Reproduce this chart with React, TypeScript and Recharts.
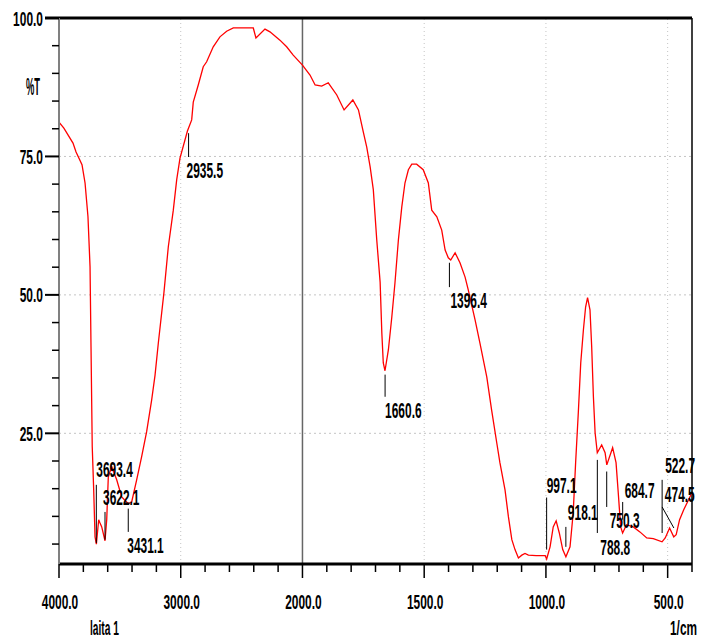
import React from 'react';
import { LineChart, Line, XAxis, YAxis, ReferenceLine, ReferenceDot } from 'recharts';

// spectrum: wavenumber (1/cm) and %T
const waves = [
  4000, 3960, 3885, 3860, 3811, 3786, 3762, 3745, 3737, 3727, 3715, 3704, 3693,
  3674, 3663, 3649, 3622, 3608, 3595, 3567, 3526, 3485, 3431, 3403, 3362, 3321,
  3280, 3239, 3211, 3184, 3138, 3102, 3061, 3033, 3006, 2945, 2910, 2897, 2856,
  2815, 2787, 2733, 2678, 2623, 2568, 2404, 2382, 2308, 2267, 2185, 2130, 2076,
  2000, 1969, 1948, 1921, 1894, 1859, 1829, 1793, 1770, 1750, 1736, 1722, 1709,
  1695, 1681, 1674, 1668, 1661, 1647, 1633, 1620, 1606, 1592, 1579, 1565, 1551,
  1531, 1504, 1483, 1469, 1448, 1428, 1414, 1401, 1391, 1373, 1353, 1332, 1319,
  1291, 1271, 1243, 1223, 1202, 1189, 1168, 1154, 1140, 1127, 1113, 1099, 1086,
  1072, 1040, 1003, 997, 983, 970, 958, 945, 931, 918, 901, 888, 878, 867, 857,
  846, 837, 829, 819, 812, 805, 798, 789, 771, 757, 750, 726, 712, 703, 693, 685,
  669, 641, 614, 586, 559, 523, 510, 492, 475, 465, 451, 434, 414, 400,
];
const trans = [
  81.2, 80.1, 77.4, 75.8, 73.5, 70.2, 64.1, 55.1, 40.6, 22.6, 14.8, 6.3, 5.0,
  9.4, 8.8, 8.1, 5.6, 9.4, 17.1, 19.0, 16.6, 13.5, 12.3, 12.6, 16.6, 20.8,
  25.3, 31.0, 35.5, 41.3, 50.4, 58.7, 65.3, 70.8, 74.7, 79.6, 81.6, 84.8, 87.9,
  91.2, 92.1, 94.8, 96.6, 97.6, 98.2, 98.2, 96.4, 98.0, 97.5, 96.0, 94.8, 93.3,
  91.5, 89.7, 87.9, 87.7, 88.3, 86.1, 83.4, 85.2, 83.4, 79.4, 76.7, 73.1, 69.0,
  60.0, 52.3, 43.1, 37.7, 36.3, 40.1, 46.0, 52.2, 59.9, 65.9, 70.2, 72.6, 73.6,
  73.6, 72.6, 70.2, 65.3, 64.1, 61.7, 58.1, 56.7, 56.3, 57.6, 55.8, 53.2, 50.9,
  45.5, 41.3, 35.2, 29.2, 23.3, 19.7, 14.8, 9.9, 5.8, 4.0, 2.5, 3.0, 3.3,
  3.0, 2.9, 2.9, 2.3, 4.5, 8.1, 9.2, 7.0, 4.0, 2.7, 4.5, 10.6, 19.7, 28.7, 37.7,
  43.7, 47.8, 49.5, 47.3, 40.6, 31.6, 25.1, 21.5, 22.9, 21.5, 19.3, 22.4, 19.7, 14.3, 8.1, 7.0,
  8.5, 8.1, 7.2, 6.1, 6.0, 5.4, 6.1, 7.9, 6.3, 6.7, 9.4, 11.2, 13.0, 14.3,
];

// peak picks
const peakWaves = [3693.4, 3622.1, 3431.1, 2935.5, 1660.6, 1396.4, 997.1, 918.1, 788.8, 750.3, 684.7, 522.7, 474.5];
const peakLabels = ['3693.4', '3622.1', '3431.1', '2935.5', '1660.6', '1396.4', '997.1', '918.1', '788.8', '750.3', '684.7', '522.7', '474.5'];
// marker line ends and label baseline, in %T
const markFrom = [3693.4, 3622.1, 3431.1, 2935.5, 1660.6, 1396.4, 997.1, 918.1, 788.8, 750.3, 684.7, 522.7, 522.7];
const markTop = [15.7, 10.8, 11.4, 79.2, 35.6, 55.8, 13.4, 8.1, 20.2, 18.1, 12.6, 16.6, 11.7];
const markBottom = [5.2, 5.8, 7.2, 74.9, 31.6, 51.4, 4.0, 4.5, 7.0, 11.7, 9.4, 7.0, 7.9];
const labelT = [17.1, 12.1, 3.4, 71.1, 27.8, 47.7, 14.3, 9.4, 3.1, 7.9, 13.4, 17.9, 12.6];
const labelDx = [0, -2, -1, -2, 0, 1, 0, 2, 3, 3, 2, 3, -9];

const xMajor = [4000, 3000, 2000, 1500, 1000, 500];
const xMinor = [3800, 3600, 3400, 3200, 2800, 2600, 2400, 2200, 1900, 1800, 1700, 1600, 1400, 1300, 1200, 1100, 900, 800, 700, 600, 400];
const yTicks = [5, 10, 15, 20, 25, 30, 35, 40, 45, 50, 55, 60, 65, 70, 75, 80, 85, 90, 95, 100];
const xGrid = [3000, 1500, 1000, 500];
const yGrid = [75, 50, 25];

const FONT = "'Liberation Sans Narrow', 'Liberation Sans', Arial, sans-serif";

// the instrument halves the scale above 2000 1/cm
const toU = (w: number) => (w <= 2000 ? w : 2000 + (w - 2000) / 2);
const fromU = (u: number) => (u <= 2000 ? u : 2000 + (u - 2000) * 2);

const textWidth = (s: string) => s.split('').reduce((a, c) => a + (c === '.' ? 3.5 : 6.6), 0);

const data = waves.map((w, i) => ({ u: toU(w), t: trans[i] }));
const xTicks = [...xMajor, ...xMinor].map(toU).sort((a, b) => a - b);

const CondText = ({ x, y, s, anchor = 'start', size = 22, len }: any) => (
  <text
    x={x}
    y={y}
    textAnchor={anchor}
    fontFamily={FONT}
    fontWeight="bold"
    fontSize={size}
    fill="#000"
    textLength={len ?? textWidth(s)}
    lengthAdjust="spacingAndGlyphs"
  >
    {s}
  </text>
);

const XTick = (props: any) => {
  const { x, y, payload } = props;
  const w = Math.round(fromU(payload.value));
  const major = xMajor.includes(w);
  return (
    <g>
      <line x1={x} x2={x} y1={y} y2={y + (major ? 14 : 8)} stroke="#000" strokeWidth={1.5} />
      {major && <CondText x={x + 1} y={y + 45} s={w.toFixed(1)} anchor="middle" size={21} />}
    </g>
  );
};

const YTick = (props: any) => {
  const { x, y, payload } = props;
  const v = payload.value;
  const major = v % 25 === 0;
  return (
    <g>
      <line x1={x - (major ? 14 : 7)} x2={x} y1={y} y2={y} stroke="#000" strokeWidth={v === 100 ? 3 : major ? 2 : 1.5} />
      {major && <CondText x={x - 16} y={y + 7.5} s={v.toFixed(1)} anchor="end" size={21} />}
    </g>
  );
};

export default function App() {
  return (
    <div style={{ position: 'absolute', left: 0, top: 0, width: 708, height: 638, background: '#fff' }}>
      <LineChart width={708} height={638} data={data} margin={{ top: 18, right: 16, bottom: 0, left: 0 }}>
        <XAxis
          type="number"
          dataKey="u"
          domain={[400, 3000]}
          reversed
          allowDataOverflow
          ticks={xTicks}
          interval={0}
          tick={<XTick />}
          tickLine={false}
          tickSize={0}
          tickMargin={0}
          height={74}
          axisLine={{ stroke: '#000', strokeWidth: 3 }}
        />
        <YAxis
          type="number"
          domain={[1.4, 100]}
          allowDataOverflow
          ticks={yTicks}
          interval={0}
          tick={<YTick />}
          tickLine={false}
          tickSize={0}
          tickMargin={0}
          width={59}
          axisLine={{ stroke: '#808080', strokeWidth: 2 }}
        />
        {xGrid.map((w) => (
          <ReferenceLine key={`gx${w}`} x={toU(w)} stroke="#c4c4c4" strokeDasharray="1 3" />
        ))}
        {yGrid.map((v) => (
          <ReferenceLine key={`gy${v}`} y={v} stroke="#c4c4c4" strokeDasharray="2 3" />
        ))}
        <ReferenceLine x={2000} stroke="#666" strokeWidth={1.5} />
        <ReferenceLine y={100} stroke="#000" strokeWidth={3} />
        <ReferenceLine x={400} stroke="#000" strokeWidth={1.5} />
        <Line
          type="linear"
          dataKey="t"
          stroke="#ff0000"
          strokeWidth={1.3}
          dot={false}
          isAnimationActive={false}
        />
        {peakWaves.map((w, i) => (
          <ReferenceLine
            key={`m${i}`}
            segment={[
              { x: toU(markFrom[i]), y: markTop[i] },
              { x: toU(w), y: markBottom[i] },
            ]}
            stroke="#000"
            strokeWidth={1}
          />
        ))}
        {peakWaves.map((w, i) => (
          <ReferenceDot
            key={`l${i}`}
            x={toU(w)}
            y={labelT[i]}
            r={0}
            shape={(p: any) => <CondText x={p.cx + labelDx[i]} y={p.cy} s={peakLabels[i]} />}
          />
        ))}
      </LineChart>
      <svg width={708} height={638} style={{ position: 'absolute', left: 0, top: 0, pointerEvents: 'none' }}>
        <CondText x={26} y={95} s="%T" size={23} len={14} />
        <CondText x={90} y={635} s="laita 1" size={21} len={29} />
        <CondText x={670} y={635} s="1/cm" size={21} len={27} />
      </svg>
    </div>
  );
}
